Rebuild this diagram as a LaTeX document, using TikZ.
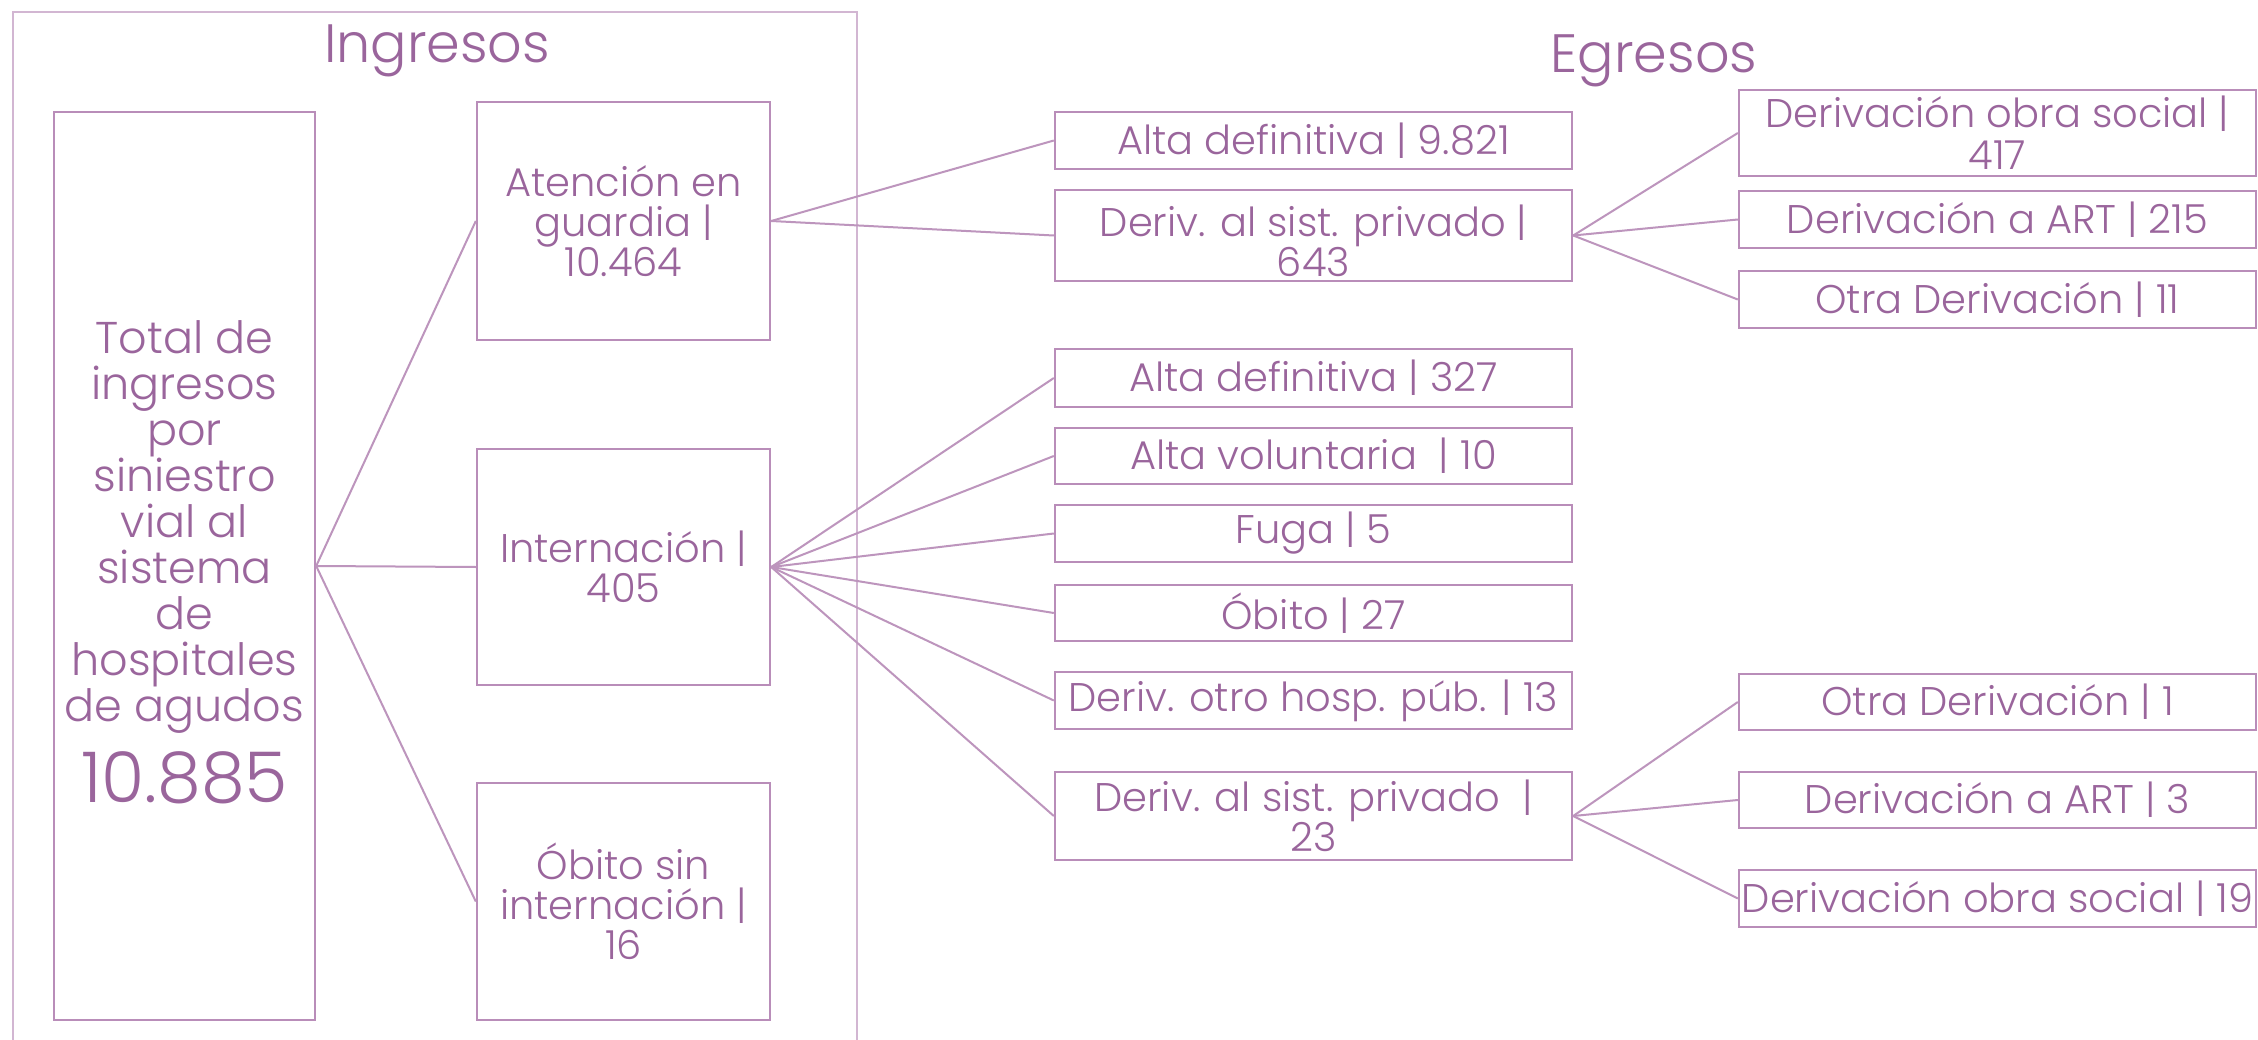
\documentclass[tikz,border=0pt]{standalone}
\usepackage{fontspec}
\setmainfont{Poppins}[UprightFont={* Light}]
\definecolor{txt}{HTML}{9A659C}
\definecolor{boxc}{HTML}{B98DB9}
\definecolor{linec}{HTML}{BD95BD}
\definecolor{framec}{HTML}{D2B6D2}
\begin{document}
\begin{tikzpicture}[x=1pt,y=-1pt,
  box/.style={draw=boxc, line width=2.4pt, text=txt, align=center, inner sep=0pt,
    font=\fontsize{40}{40}\selectfont},
  wide/.style={box, minimum width=517pt},
  tall/.style={box, minimum width=293pt},
  lbl/.style={text=txt, align=center, inner sep=0pt},
  link/.style={draw=linec, line width=2pt}]
\useasboundingbox (0,0) rectangle (2258,1040);
\fill[white] (0,0) rectangle (2258,1040);
% frame
\draw[draw=framec, line width=1.6pt] (13,1060) -- (13,12) -- (857,12) -- (857,1060);
% titles
\node[lbl, font=\fontsize{54}{54}\selectfont, anchor=base] (ting) at (437,63) {Ingresos};
\node[lbl, font=\fontsize{54}{54}\selectfont, anchor=base] (tegr) at (1654,73) {Egresos};
% column 0
\node[box, minimum width=261pt, minimum height=908pt] (total) at (184.5,566) {};
\node[lbl, font=\fontsize{44.5}{46}\selectfont] (totaltxt) at (184.5,527)
  {Total de\\ingresos\\por\\siniestro\\vial al\\sistema\\de\\hospitales\\de agudos};
\node[lbl, font=\fontsize{70}{70}\selectfont, anchor=base] (totalnum) at (184.5,802) {10.885};
% column 1
\node[tall, minimum height=238pt] (aten) at (623.5,221) {Atención en\\guardia |\\10.464};
\node[tall, minimum height=236pt] (inter) at (623.5,567) {Internación |\\405};
\node[tall, minimum height=237pt] (obsin) at (623.5,901.5) {Óbito sin\\internación |\\16};
% column 2
\node[wide, minimum height=57pt] (a1) at (1313.5,140.5) {Alta definitiva | 9.821};
\node[wide, minimum height=91pt] (a2) at (1313.5,235.5) {};
\node[lbl, font=\fontsize{40}{37}\selectfont] (a2t) at (1313.5,241) {Deriv. al sist. privado |\\643};
\node[wide, minimum height=58pt] (b1) at (1313.5,378) {Alta definitiva | 327};
\node[wide, minimum height=56pt] (b2) at (1313.5,456) {Alta voluntaria\ \ | 10};
\node[wide, minimum height=57pt] (b3) at (1313.5,533.5) {Fuga | 5};
\node[wide, minimum height=56pt] (b4) at (1313.5,613) {Óbito | 27};
\node[wide, minimum height=57pt] (b5) at (1313.5,700.5) {Deriv. otro hosp. púb. | 13};
\node[wide, minimum height=88pt] (b6) at (1313.5,816) {Deriv. al sist. privado\ \ |\\23};
% column 3
\node[wide, minimum height=86pt, font=\fontsize{40}{42}\selectfont] (c1) at (1997.5,133) {Derivación obra social |\\417};
\node[wide, minimum height=57pt] (c2) at (1997.5,219.5) {Derivación a ART | 215};
\node[wide, minimum height=57pt] (c3) at (1997.5,299.5) {Otra Derivación | 11};
\node[wide, minimum height=56pt] (d1) at (1997.5,702) {Otra Derivación | 1};
\node[wide, minimum height=56pt] (d2) at (1997.5,800) {Derivación a ART | 3};
\node[wide, minimum height=57pt] (d3) at (1997.5,898.5) {Derivación obra social | 19};
% connectors
\foreach \t in {aten,inter,obsin} \draw[link] (total.east) -- (\t.west);
\foreach \t in {a1,a2} \draw[link] (aten.east) -- (\t.west);
\foreach \t in {b1,b2,b3,b4,b5,b6} \draw[link] (inter.east) -- (\t.west);
\foreach \t in {c1,c2,c3} \draw[link] (a2.east) -- (\t.west);
\foreach \t in {d1,d2,d3} \draw[link] (b6.east) -- (\t.west);
\end{tikzpicture}
\end{document}
